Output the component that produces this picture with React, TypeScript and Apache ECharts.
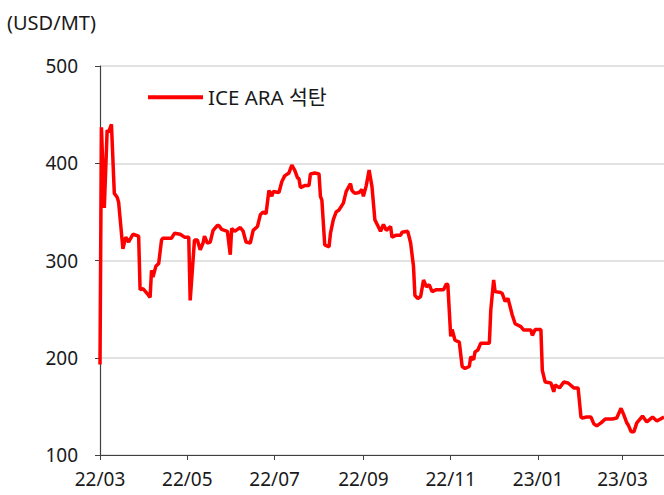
import React, { useEffect, useRef } from "react";
import * as echarts from "echarts";

const seriesName = "ICE ARA 석탄";
const unitLabel = "(USD/MT)";

const dates: string[] = [
  "2022-03-01", "2022-03-02", "2022-03-04", "2022-03-06", "2022-03-07", "2022-03-09", "2022-03-11", "2022-03-13",
  "2022-03-14", "2022-03-17", "2022-03-19", "2022-03-21", "2022-03-24", "2022-03-28", "2022-03-29", "2022-03-31",
  "2022-04-03", "2022-04-05", "2022-04-06", "2022-04-07", "2022-04-09", "2022-04-11", "2022-04-13", "2022-04-14",
  "2022-04-20", "2022-04-22", "2022-04-26", "2022-04-29", "2022-05-02", "2022-05-03", "2022-05-06", "2022-05-08",
  "2022-05-10", "2022-05-12", "2022-05-13", "2022-05-15", "2022-05-17", "2022-05-19", "2022-05-22", "2022-05-23",
  "2022-05-25", "2022-05-29", "2022-05-31", "2022-06-01", "2022-06-03", "2022-06-07", "2022-06-09", "2022-06-11",
  "2022-06-14", "2022-06-16", "2022-06-19", "2022-06-21", "2022-06-23", "2022-06-25", "2022-06-27", "2022-06-29",
  "2022-06-30", "2022-07-04", "2022-07-06", "2022-07-08", "2022-07-11", "2022-07-13", "2022-07-15", "2022-07-17",
  "2022-07-18", "2022-07-19", "2022-07-22", "2022-07-25", "2022-07-26", "2022-07-29", "2022-08-01", "2022-08-02",
  "2022-08-03", "2022-08-05", "2022-08-08", "2022-08-09", "2022-08-11", "2022-08-13", "2022-08-15", "2022-08-18",
  "2022-08-20", "2022-08-23", "2022-08-24", "2022-08-26", "2022-08-29", "2022-08-31", "2022-09-01", "2022-09-03",
  "2022-09-05", "2022-09-07", "2022-09-09", "2022-09-11", "2022-09-13", "2022-09-15", "2022-09-17", "2022-09-20",
  "2022-09-21", "2022-09-24", "2022-09-27", "2022-09-28", "2022-10-02", "2022-10-04", "2022-10-06", "2022-10-07",
  "2022-10-09", "2022-10-11", "2022-10-13", "2022-10-15", "2022-10-17", "2022-10-19", "2022-10-22", "2022-10-27",
  "2022-10-29", "2022-10-30", "2022-11-01", "2022-11-02", "2022-11-04", "2022-11-07", "2022-11-09", "2022-11-11",
  "2022-11-14", "2022-11-15", "2022-11-17", "2022-11-18", "2022-11-20", "2022-11-22", "2022-11-24", "2022-11-28",
  "2022-11-29", "2022-12-01", "2022-12-02", "2022-12-06", "2022-12-07", "2022-12-09", "2022-12-11", "2022-12-14",
  "2022-12-16", "2022-12-20", "2022-12-22", "2022-12-27", "2022-12-28", "2022-12-30", "2023-01-03", "2023-01-04",
  "2023-01-06", "2023-01-10", "2023-01-12", "2023-01-13", "2023-01-16", "2023-01-19", "2023-01-22", "2023-01-26",
  "2023-01-29", "2023-01-31", "2023-02-01", "2023-02-04", "2023-02-07", "2023-02-09", "2023-02-11", "2023-02-14",
  "2023-02-17", "2023-02-22", "2023-02-25", "2023-02-28", "2023-03-02", "2023-03-04", "2023-03-05", "2023-03-07",
  "2023-03-09", "2023-03-11", "2023-03-15", "2023-03-18", "2023-03-22", "2023-03-25", "2023-03-30",
];

const prices: number[] = [
  193, 437, 354, 434, 432, 440, 369, 365,
  360, 312, 324, 319, 327, 325, 270, 271,
  266, 262, 290, 283, 294, 297, 321, 323,
  323, 328, 327, 324, 324, 259, 321, 321,
  311, 318, 325, 318, 319, 331, 336, 336,
  332, 330, 306, 333, 330, 334, 330, 319,
  318, 331, 335, 347, 350, 348, 372, 366,
  371, 370, 381, 387, 390, 398, 393, 385,
  384, 375, 377, 377, 389, 390, 389, 366,
  362, 316, 314, 328, 342, 350, 352, 359,
  371, 379, 372, 369, 370, 373, 366, 377,
  393, 376, 342, 336, 330, 337, 331, 335,
  324, 326, 326, 329, 330, 318, 294, 264,
  261, 263, 280, 273, 275, 268, 270, 270,
  276, 275, 222, 229, 218, 216, 191, 189,
  191, 201, 198, 206, 208, 215, 215, 215,
  249, 280, 268, 267, 266, 258, 261, 244,
  235, 232, 228.5, 228.5, 223, 229, 229, 187,
  175, 174, 165, 172, 169, 175, 174, 169,
  169, 139, 138, 139, 139, 132, 130, 133,
  137, 137, 138, 148, 141, 133, 131, 124,
  124, 133, 140, 134, 139, 135, 139,
];

const tickDates: string[] = ["2022-03-01", "2022-05-01", "2022-07-01", "2022-09-01", "2022-11-01", "2023-01-01", "2023-03-01"];
const tickLabels: string[] = ["22/03", "22/05", "22/07", "22/09", "22/11", "23/01", "23/03"];

const yMin = 100;
const yMax = 500;
const yStep = 100;

const toTime = (s: string) => {
  const [y, m, d] = s.split("-").map(Number);
  return Date.UTC(y, m - 1, d);
};

const FONT = "'Noto Sans', 'Noto Sans CJK KR', sans-serif";

export default function App() {
  const ref = useRef<HTMLDivElement>(null);

  useEffect(() => {
    if (!ref.current) return;
    const chart = echarts.init(ref.current, undefined, { renderer: "svg" });
    const tickTimes = tickDates.map(toTime);
    chart.setOption({
      animation: false,
      backgroundColor: "#ffffff",
      textStyle: { fontFamily: FONT },
      title: {
        text: unitLabel,
        left: 2,
        top: 7,
        textStyle: { fontFamily: FONT, fontSize: 20, fontWeight: "normal", color: "#1a1a1a" },
      },
      legend: {
        left: 143,
        top: 82,
        icon: "rect",
        itemWidth: 55,
        itemHeight: 4,
        itemGap: 10,
        textStyle: { fontFamily: FONT, fontSize: 20.5, color: "#1a1a1a" },
        data: [seriesName],
      },
      grid: { left: 100, right: 0, top: 66, bottom: 40 },
      xAxis: {
        type: "value",
        min: toTime(dates[0]),
        max: toTime(dates[dates.length - 1]),
        axisLine: { show: true, lineStyle: { color: "#404040", width: 1.2 } },
        axisTick: { show: true, length: 5, lineStyle: { color: "#404040" }, customValues: tickTimes },
        axisLabel: {
          customValues: tickTimes,
          margin: 14,
          fontFamily: FONT,
          fontSize: 19,
          color: "#1a1a1a",
          formatter: (v: number) => {
            const i = tickTimes.indexOf(v);
            return i >= 0 ? tickLabels[i] : "";
          },
        },
        splitLine: { show: false },
      },
      yAxis: {
        type: "value",
        min: yMin,
        max: yMax,
        interval: yStep,
        axisLine: { show: true, lineStyle: { color: "#404040", width: 1.2 } },
        axisTick: { show: true, length: 5, lineStyle: { color: "#404040" } },
        axisLabel: { margin: 22, fontFamily: FONT, fontSize: 19, color: "#1a1a1a" },
        splitLine: { show: true, lineStyle: { color: "#d9d9d9", width: 1.5 } },
      },
      series: [
        {
          name: seriesName,
          type: "line",
          data: dates.map((d, i) => [toTime(d), prices[i]]),
          showSymbol: false,
          symbol: "none",
          lineStyle: { color: "#ff0000", width: 3.5 },
          itemStyle: { color: "#ff0000" },
          clip: false,
        },
      ],
    });
    return () => chart.dispose();
  }, []);

  return <div ref={ref} style={{ width: 664, height: 495, position: "absolute", left: 0, top: 0 }} />;
}
